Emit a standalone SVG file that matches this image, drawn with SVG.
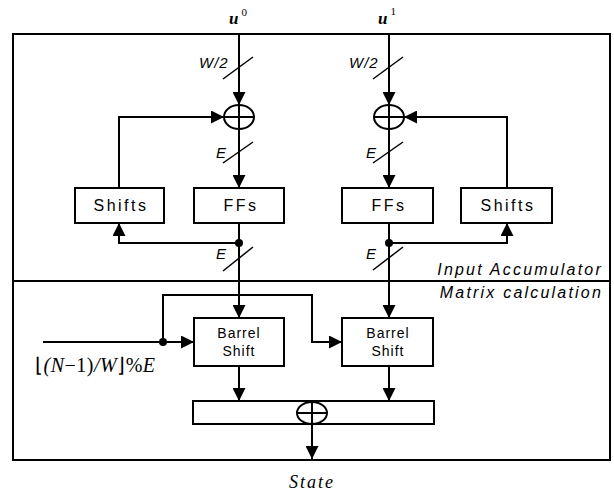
<svg xmlns="http://www.w3.org/2000/svg" width="614" height="495" viewBox="0 0 614 495">
<style>
.ln{stroke:#000;stroke-width:2;fill:none}
.bx{stroke:#000;stroke-width:2;fill:#fff}
.sl{stroke:#000;stroke-width:1.5}
.t{font-family:"Liberation Sans",Arial,sans-serif;fill:#000}
.blk{font-size:16px;letter-spacing:2.5px;text-anchor:middle}
.bs{font-size:14px;letter-spacing:1px;text-anchor:middle}
.it{font-style:italic;font-size:15px}
.sec{font-style:italic;font-size:16px;letter-spacing:2.2px;text-anchor:end}
.tm{font-family:"Liberation Serif","Times New Roman",serif;font-style:italic;fill:#000}
</style>
<defs>
<marker id="ah" viewBox="0 0 10 10" refX="10" refY="5" markerWidth="6.5" markerHeight="6.5" orient="auto" markerUnits="strokeWidth">
<path d="M0,0 L10,5 L0,10 z" fill="#000"/>
</marker>
</defs>
<rect width="614" height="495" fill="#fff"/>
<g id="frame">
<rect x="13" y="34" width="597" height="426" class="ln"/>
<line x1="13" y1="281" x2="610" y2="281" class="ln"/>
<text class="t sec" x="603" y="275">Input Accumulator</text>
<text class="t sec" x="603" y="298">Matrix calculation</text>
</g>
<g id="connectors">
<line x1="239" y1="34" x2="239" y2="105" class="ln" marker-end="url(#ah)"/>
<line x1="389" y1="34" x2="389" y2="105" class="ln" marker-end="url(#ah)"/>
<line x1="239" y1="129" x2="239" y2="188" class="ln" marker-end="url(#ah)"/>
<line x1="389" y1="129" x2="389" y2="188" class="ln" marker-end="url(#ah)"/>
<polyline points="119,188 119,117 224,117" class="ln" marker-end="url(#ah)"/>
<polyline points="507,188 507,117 404,117" class="ln" marker-end="url(#ah)"/>
<polyline points="239,243 119,243 119,223" class="ln" marker-end="url(#ah)"/>
<polyline points="389,243 507,243 507,223" class="ln" marker-end="url(#ah)"/>
<line x1="239" y1="223" x2="239" y2="318" class="ln" marker-end="url(#ah)"/>
<line x1="389" y1="223" x2="389" y2="318" class="ln" marker-end="url(#ah)"/>
<line x1="43" y1="342" x2="194" y2="342" class="ln" marker-end="url(#ah)"/>
<polyline points="163,342 163,295 312,295 312,342 342,342" class="ln" marker-end="url(#ah)"/>
<line x1="239" y1="366" x2="239" y2="401" class="ln" marker-end="url(#ah)"/>
<line x1="389" y1="366" x2="389" y2="401" class="ln" marker-end="url(#ah)"/>
<line x1="312" y1="402" x2="312" y2="459" class="ln" marker-end="url(#ah)"/>
<circle cx="239" cy="243" r="4" fill="#000"/>
<circle cx="389" cy="243" r="4" fill="#000"/>
<circle cx="163" cy="342" r="4" fill="#000"/>
<line x1="223" y1="79" x2="253" y2="57" class="sl"/>
<line x1="373" y1="79" x2="403" y2="57" class="sl"/>
<line x1="223" y1="163" x2="253" y2="142" class="sl"/>
<line x1="373" y1="163" x2="403" y2="142" class="sl"/>
<line x1="223" y1="271" x2="253" y2="247" class="sl"/>
<line x1="373" y1="270" x2="403" y2="247" class="sl"/>
<text class="t it" x="199" y="68" letter-spacing="1">W/2</text>
<text class="t it" x="349" y="68" letter-spacing="1">W/2</text>
<text class="t it" x="216" y="158">E</text>
<text class="t it" x="366" y="158">E</text>
<text class="t it" x="216" y="259">E</text>
<text class="t it" x="366" y="259">E</text>
</g>
<g id="xor0">
<ellipse cx="239" cy="117" rx="15" ry="12" class="ln"/>
<line x1="224" y1="117" x2="254" y2="117" class="ln"/>
<line x1="239" y1="105" x2="239" y2="129" class="ln"/>
</g>
<g id="xor1">
<ellipse cx="389" cy="117" rx="15" ry="12" class="ln"/>
<line x1="374" y1="117" x2="404" y2="117" class="ln"/>
<line x1="389" y1="105" x2="389" y2="129" class="ln"/>
</g>
<g id="shifts0">
<rect x="75" y="188" width="89" height="35" class="bx"/>
<text class="t blk" x="121" y="211">Shifts</text>
</g>
<g id="ffs0">
<rect x="194" y="188" width="90" height="35" class="bx"/>
<text class="t blk" x="241" y="211">FFs</text>
</g>
<g id="ffs1">
<rect x="342" y="188" width="91" height="35" class="bx"/>
<text class="t blk" x="389" y="211">FFs</text>
</g>
<g id="shifts1">
<rect x="461" y="188" width="91" height="35" class="bx"/>
<text class="t blk" x="508" y="211">Shifts</text>
</g>
<g id="barrel0">
<rect x="194" y="318" width="90" height="48" class="bx"/>
<text class="t bs" x="239" y="338">Barrel</text>
<text class="t bs" x="239" y="356">Shift</text>
</g>
<g id="barrel1">
<rect x="342" y="318" width="91" height="48" class="bx"/>
<text class="t bs" x="388" y="338">Barrel</text>
<text class="t bs" x="388" y="356">Shift</text>
</g>
<g id="sum">
<rect x="193" y="401" width="241" height="23" class="bx"/>
<ellipse cx="312" cy="413" rx="15" ry="11" class="ln"/>
<line x1="297" y1="413" x2="327" y2="413" class="ln"/>
<line x1="312" y1="402" x2="312" y2="424" class="ln"/>
</g>
<g id="labels">
<text class="tm" x="229" y="24" font-size="17" font-weight="bold">u<tspan font-size="11" font-style="normal" font-weight="normal" dy="-8" dx="3">0</tspan></text>
<text class="tm" x="378" y="24" font-size="17" font-weight="bold">u<tspan font-size="11" font-style="normal" font-weight="normal" dy="-9" dx="3">1</tspan></text>
<text class="tm" x="35" y="372" font-size="20" letter-spacing="0.5"><tspan font-style="normal">⌊</tspan>(N<tspan font-style="normal">−1)</tspan>/W<tspan font-style="normal">⌋%</tspan>E</text>
<text class="tm" x="312" y="488" font-size="18" text-anchor="middle" letter-spacing="2">State</text>
</g>
</svg>
